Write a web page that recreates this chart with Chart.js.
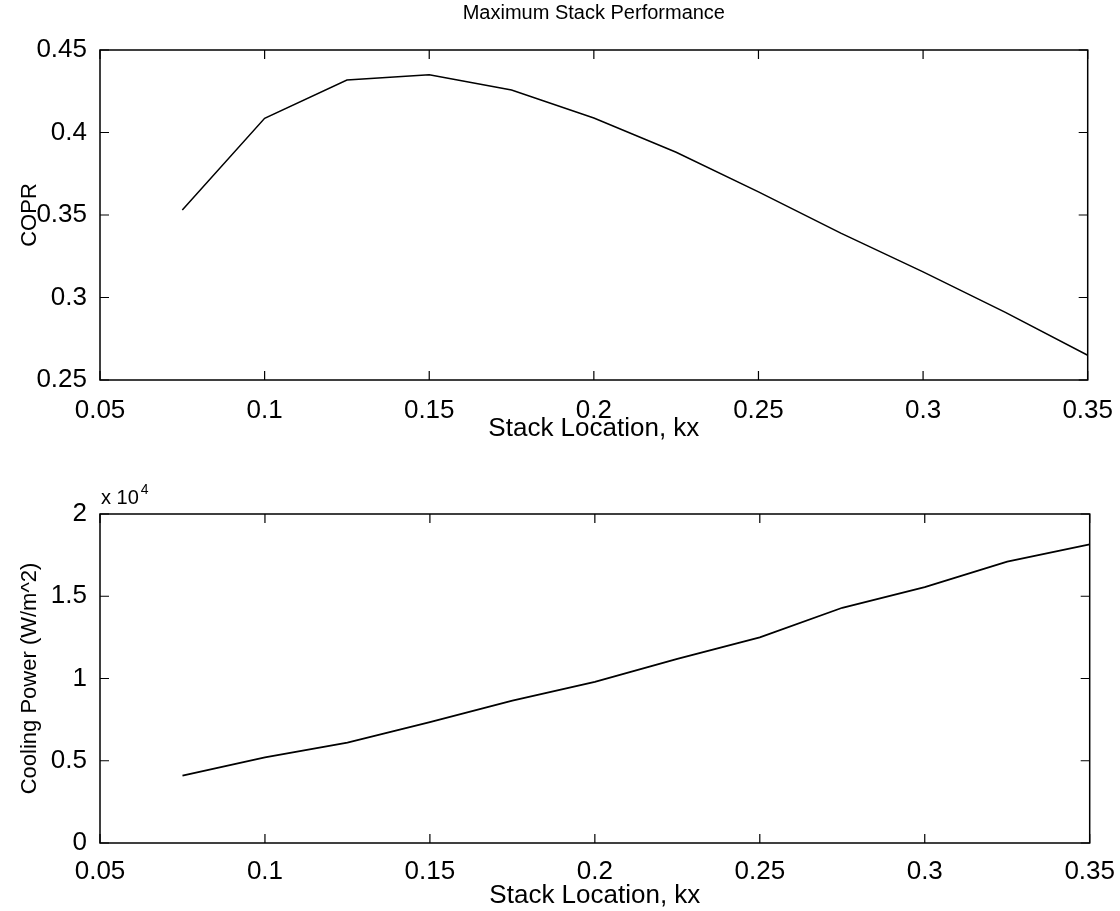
<!DOCTYPE html>
<html>
<head>
<meta charset="utf-8">
<script src="https://cdn.jsdelivr.net/npm/chart.js@4/dist/chart.umd.min.js"></script>
<style>
  body { margin: 0; background: #fff; }
  .panel { position: absolute; left: 0; width: 1120px; }
  #top { top: 0; height: 455px; }
  #bottom { top: 455px; height: 456px; }
</style>
</head>
<body>
<div class="panel" id="top"><canvas id="coprChart"></canvas></div>
<div class="panel" id="bottom"><canvas id="powerChart"></canvas></div>
<script>
// stack location kx
const stackLocation = [0.075, 0.1, 0.125, 0.15, 0.175, 0.2, 0.225, 0.25, 0.275, 0.3, 0.325, 0.35];
// COPR
const coprValues = [0.353, 0.4086, 0.4318, 0.4350, 0.4258, 0.4088, 0.388, 0.364, 0.339, 0.3155, 0.291, 0.265];
// cooling power, W/m^2
const coolingPower = [4100, 5200, 6100, 7350, 8650, 9800, 11200, 12500, 14300, 15550, 17100, 18150];

const xTicks = [0.05, 0.1, 0.15, 0.2, 0.25, 0.3, 0.35];
const xTickLabels = ["0.05", "0.1", "0.15", "0.2", "0.25", "0.3", "0.35"];
const coprTicks = [0.25, 0.3, 0.35, 0.4, 0.45];
const coprTickLabels = ["0.25", "0.3", "0.35", "0.4", "0.45"];
const powerTicks = [0, 5000, 10000, 15000, 20000];
const powerTickLabels = ["0", "0.5", "1", "1.5", "2"];

const FONT = "'Liberation Sans', Arial, sans-serif";
Chart.defaults.font.family = FONT;
Chart.defaults.color = "#000";
Chart.defaults.animation = false;

// matlab-style box with inward ticks, plus title / exponent text
const boxTicks = {
  id: "boxTicks",
  afterDraw(chart, args, opts) {
    const { ctx, chartArea: a, scales } = chart;
    const len = 9;
    ctx.save();
    ctx.strokeStyle = "#000";
    ctx.lineWidth = 1.5;
    ctx.strokeRect(a.left, a.top, a.right - a.left, a.bottom - a.top);
    ctx.lineWidth = 1.2;
    ctx.beginPath();
    scales.x.ticks.forEach(t => {
      const px = scales.x.getPixelForValue(t.value);
      ctx.moveTo(px, a.bottom); ctx.lineTo(px, a.bottom - len);
      ctx.moveTo(px, a.top); ctx.lineTo(px, a.top + len);
    });
    scales.y.ticks.forEach(t => {
      const py = scales.y.getPixelForValue(t.value);
      ctx.moveTo(a.left, py); ctx.lineTo(a.left + len, py);
      ctx.moveTo(a.right, py); ctx.lineTo(a.right - len, py);
    });
    ctx.stroke();

    ctx.fillStyle = "#000";
    if (opts.title) {
      ctx.font = "20px " + FONT;
      ctx.textAlign = "center";
      ctx.textBaseline = "middle";
      ctx.fillText(opts.title, (a.left + a.right) / 2, a.top - 37);
    }
    if (opts.exponent) {
      ctx.textBaseline = "alphabetic";
      ctx.textAlign = "left";
      ctx.font = "20px " + FONT;
      ctx.fillText("x 10", a.left + 1, a.top - 10);
      const w = ctx.measureText("x 10").width;
      ctx.font = "14px " + FONT;
      ctx.fillText(opts.exponent, a.left + 3 + w, a.top - 20);
    }
    ctx.restore();
  }
};

function fixedTicks(values) {
  return scale => { scale.ticks = values.map(v => ({ value: v })); };
}

function buildChart(canvasId, yValues, yTicks, yLabels, yTitle, opts) {
  const ctx = document.getElementById(canvasId).getContext("2d");
  return new Chart(ctx, {
    type: "line",
    data: {
      datasets: [{
        data: stackLocation.map((x, i) => ({ x: x, y: yValues[i] })),
        borderColor: "#000",
        borderWidth: opts.lineWidth,
        pointRadius: 0,
        fill: false,
        tension: 0
      }]
    },
    options: {
      responsive: true,
      maintainAspectRatio: false,
      layout: { padding: { left: 0, right: 30, top: opts.padTop, bottom: 0 } },
      plugins: {
        legend: { display: false },
        tooltip: { enabled: false },
        title: { display: false },
        boxTicks: { title: opts.title, exponent: opts.exponent }
      },
      scales: {
        x: {
          type: "linear",
          min: 0.05,
          max: 0.35,
          afterBuildTicks: fixedTicks(xTicks),
          afterFit: s => { s.height = opts.xHeight; },
          grid: { display: false },
          border: { display: false },
          ticks: {
            padding: opts.tickPad,
            maxRotation: 0,
            autoSkip: false,
            font: { size: 26 },
            callback: (v, i) => xTickLabels[i]
          },
          title: {
            display: true,
            text: "Stack Location, kx",
            font: { size: 26 },
            padding: { top: 0, bottom: opts.xTitlePad }
          }
        },
        y: {
          min: yTicks[0],
          max: yTicks[yTicks.length - 1],
          afterBuildTicks: fixedTicks(yTicks),
          afterFit: s => { s.width = 100; },
          grid: { display: false },
          border: { display: false },
          ticks: {
            padding: 5,
            autoSkip: false,
            font: { size: 26 },
            callback: (v, i) => yLabels[i]
          },
          title: {
            display: true,
            text: yTitle,
            font: { size: 22 },
            padding: { top: 17, bottom: 0 }
          }
        }
      }
    },
    plugins: [boxTicks]
  });
}

buildChart("coprChart", coprValues, coprTicks, coprTickLabels, "COPR", {
  title: "Maximum Stack Performance",
  padTop: 50,
  xHeight: 75,
  tickPad: 7,
  xTitlePad: 11,
  lineWidth: 1.5
});

buildChart("powerChart", coolingPower, powerTicks, powerTickLabels, "Cooling Power (W/m^2)", {
  padTop: 59,
  xHeight: 68,
  tickPad: 5,
  xTitlePad: 0,
  lineWidth: 1.8,
  exponent: "4"
});
</script>
</body>
</html>
